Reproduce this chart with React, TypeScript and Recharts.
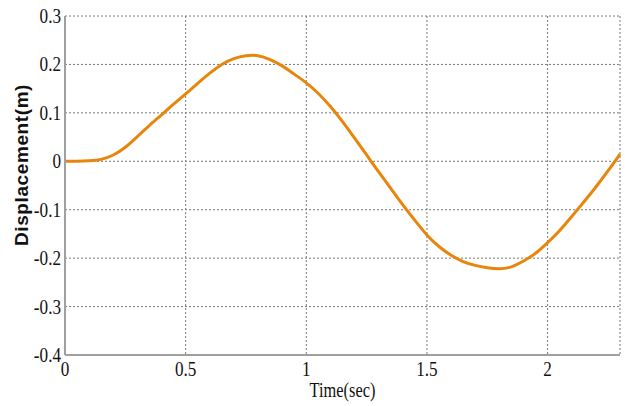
import { CartesianGrid, Line, LineChart, XAxis, YAxis } from "recharts";

const times = [
  0, 0.05, 0.1, 0.15, 0.2, 0.25, 0.3, 0.35, 0.4, 0.45, 0.5, 0.55, 0.6, 0.65, 0.7, 0.75, 0.8, 0.85, 0.9, 0.95, 1.0,
  1.05, 1.1, 1.15, 1.2, 1.25, 1.3, 1.35, 1.4, 1.45, 1.5, 1.55, 1.6, 1.65, 1.7, 1.75, 1.8, 1.85, 1.9, 1.95, 2.0,
  2.05, 2.1, 2.15, 2.2, 2.25, 2.3,
];
const displacement = [
  0, 0, 0.001, 0.004, 0.013, 0.029, 0.051, 0.074, 0.096, 0.118, 0.139, 0.161, 0.182, 0.2, 0.212, 0.218, 0.218,
  0.21, 0.197, 0.18, 0.162, 0.14, 0.113, 0.082, 0.048, 0.013, -0.022, -0.056, -0.09, -0.122, -0.152, -0.176, -0.194,
  -0.207, -0.215, -0.22, -0.222, -0.218, -0.206, -0.19, -0.168, -0.143, -0.114, -0.084, -0.053, -0.02, 0.015,
];
const xTicks = [0, 0.5, 1, 1.5, 2];
const yTicks = [-0.4, -0.3, -0.2, -0.1, 0, 0.1, 0.2, 0.3];

const data = times.map((t, i) => ({ t, d: displacement[i] }));

const serif = "Liberation Serif";
const frame = "#a0a0a0";

// narrow, tall serif text like the original MATLAB export
function Narrow({ x, y, anchor, size, children }: any) {
  return (
    <text
      transform={`translate(${x},${y}) scale(0.78,1)`}
      textAnchor={anchor}
      fontFamily={serif}
      fontSize={size}
      fill="#111"
    >
      {children}
    </text>
  );
}

function XTick({ x, y, payload }: any) {
  return <Narrow x={x} y={y + 13} anchor="middle" size={22}>{String(payload.value)}</Narrow>;
}

function YTick({ x, y, payload }: any) {
  const v = Math.round(payload.value * 10) / 10;
  return <Narrow x={x + 4} y={y + 7} anchor="end" size={22}>{String(v)}</Narrow>;
}

function XLabel({ viewBox }: any) {
  return (
    <Narrow x={viewBox.x + viewBox.width / 2} y={viewBox.y + viewBox.height - 9} anchor="middle" size={21}>
      Time(sec)
    </Narrow>
  );
}

function YLabel({ viewBox }: any) {
  const cy = viewBox.y + 149;
  return (
    <text
      transform={`translate(28,${cy}) rotate(-90)`}
      textAnchor="middle"
      fontFamily="Liberation Sans"
      fontWeight="bold"
      fontSize={19}
      letterSpacing={0.6}
      fill="#111"
    >
      Displacement(m)
    </text>
  );
}

export default function App() {
  return (
    <div style={{ position: "absolute", left: 0, top: 0, background: "#fff" }}>
      <LineChart width={625} height={406} data={data} margin={{ top: 16, right: 5, left: 0, bottom: 0 }}>
        <CartesianGrid xAxisId="b" yAxisId="l" stroke="#777" strokeDasharray="2 2" strokeWidth={1} />
        <XAxis
          xAxisId="b"
          dataKey="t"
          type="number"
          domain={[0, 2.3]}
          ticks={xTicks}
          tick={<XTick />}
          tickLine={false}
          axisLine={{ stroke: frame, strokeWidth: 2 }}
          height={51}
          label={{ content: <XLabel /> }}
        />
        <XAxis xAxisId="t" orientation="top" dataKey="t" type="number" domain={[0, 2.3]} ticks={xTicks} tick={false} tickLine={false} axisLine={{ stroke: frame, strokeWidth: 2 }} height={0} />
        <YAxis
          yAxisId="l"
          type="number"
          domain={[-0.4, 0.3]}
          ticks={yTicks}
          tick={<YTick />}
          tickLine={false}
          axisLine={{ stroke: frame, strokeWidth: 2 }}
          width={65}
          label={{ content: <YLabel /> }}
        />
        <YAxis yAxisId="r" orientation="right" type="number" domain={[-0.4, 0.3]} ticks={yTicks} tick={false} tickLine={false} axisLine={{ stroke: frame, strokeWidth: 2 }} width={0} />
        <Line
          xAxisId="b"
          yAxisId="l"
          dataKey="d"
          type="natural"
          stroke="#e8850c"
          strokeWidth={3}
          dot={false}
          isAnimationActive={false}
        />
      </LineChart>
    </div>
  );
}
